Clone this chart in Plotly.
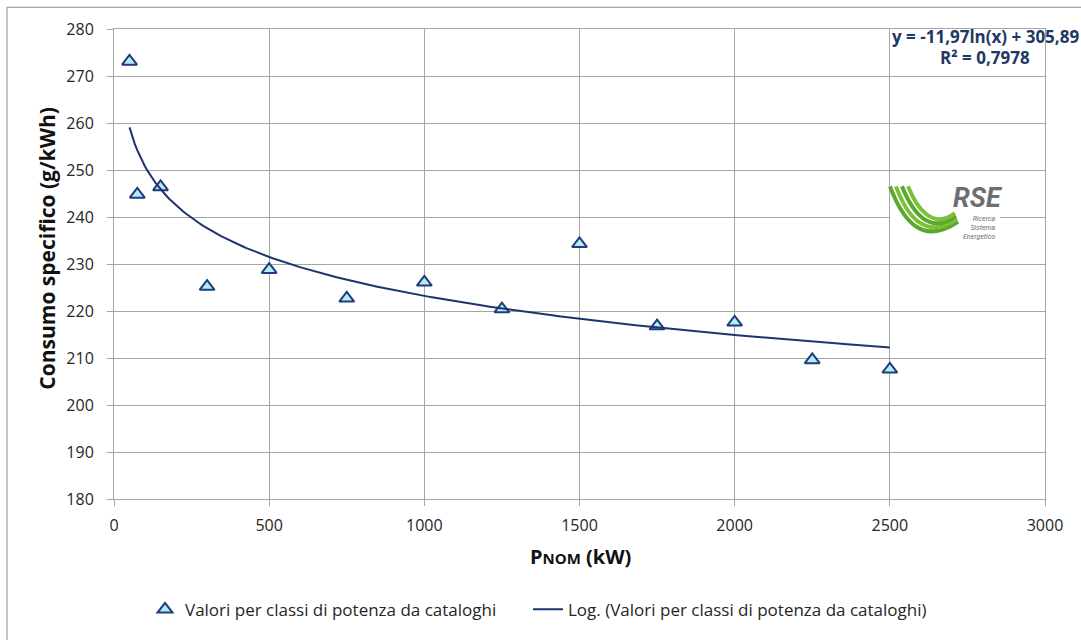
import numpy as np
import plotly.graph_objects as go

# ---- data ----
p_nom_kw = [50, 75, 150, 300, 500, 750, 1000, 1250, 1500, 1750, 2000, 2250, 2500]
consumo_g_kwh = [273.1, 244.8, 246.4, 225.2, 228.8, 222.7, 226.1, 220.4, 234.3, 216.8, 217.6, 209.6, 207.6]
trend_a = -11.97   # coefficient of ln(x) shown on the chart
trend_b = 305.89   # intercept shown on the chart
trend_label_1 = "y = -11,97ln(x) + 305,89"
trend_label_2 = "R² = 0,7978"
x_ticks = [0, 500, 1000, 1500, 2000, 2500, 3000]
y_ticks = [180, 190, 200, 210, 220, 230, 240, 250, 260, 270, 280]
series_name = "Valori per classi di potenza da cataloghi"
trend_name = "Log. (Valori per classi di potenza da cataloghi)"

# ---- layout geometry (pixels) ----
W, H = 1081, 640
ML, MR, MT, MB = 114, 36, 29, 136
PW, PH = W - ML - MR, H - MT - MB


def px(xp):
    return (xp - ML) / PW


def py(yp):
    return (H - MB - yp) / PH


FONT = "'Open Sans', Lato, sans-serif"
GRID = "#a6a6a6"
NAVY = "#1d346f"

x_trend = np.linspace(min(p_nom_kw), max(p_nom_kw), 300)
y_trend = trend_a * np.log(x_trend) + trend_b

fig = go.Figure()
fig.add_trace(go.Scatter(
    x=p_nom_kw, y=consumo_g_kwh, mode="markers", name=series_name,
    marker=dict(symbol="triangle-up", size=13, color="#b5ebf8",
                line=dict(color="#1f3d7a", width=2)),
    legend="legend",
))
fig.add_trace(go.Scatter(
    x=x_trend, y=y_trend, mode="lines", name=trend_name,
    line=dict(color=NAVY, width=2),
    legend="legend2",
))

axis_common = dict(
    showgrid=True, gridcolor=GRID, gridwidth=1,
    showline=True, linecolor=GRID, linewidth=1, mirror=True,
    ticks="outside", ticklen=6, tickcolor=GRID,
    tickfont=dict(family=FONT, size=16, color="#262626"),
    zeroline=False,
)
fig.update_xaxes(range=[0, 3000], tickvals=x_ticks, ticklabelstandoff=6, **axis_common)
fig.update_yaxes(range=[180, 280], tickvals=y_ticks, ticklabelstandoff=10, **axis_common)

shapes = []
# outer chart border
shapes.append(dict(type="rect", xref="paper", yref="paper",
                   x0=px(7), x1=px(1200), y0=py(700), y1=py(7),
                   line=dict(color="#8c8c8c", width=1), fillcolor="rgba(0,0,0,0)",
                   layer="below"))
# logo white backing
shapes.append(dict(type="rect", xref="paper", yref="paper",
                   x0=px(890), x1=px(1000), y0=py(220), y1=py(186),
                   line=dict(width=0), fillcolor="white", layer="above"))
# logo green strokes
strokes = [
    ((890, 188), (904, 226), (924, 247), (958, 224), "#5aa92c"),
    ((896, 188), (908, 221), (927, 242), (957, 221), "#7dbf3a"),
    ((902, 188), (913, 216), (930, 237), (956, 218), "#5aa92c"),
    ((908, 188), (917, 211), (933, 232), (955, 215), "#7dbf3a"),
]
for p0, c1, c2, p1, col in strokes:
    path = "M {:.5f},{:.5f} C {:.5f},{:.5f} {:.5f},{:.5f} {:.5f},{:.5f}".format(
        px(p0[0]), py(p0[1]), px(c1[0]), py(c1[1]),
        px(c2[0]), py(c2[1]), px(p1[0]), py(p1[1]))
    shapes.append(dict(type="path", xref="paper", yref="paper", path=path,
                       line=dict(color=col, width=4), layer="above"))

annotations = [
    # axis titles
    dict(text="Consumo specifico (g/kWh)", xref="paper", yref="paper",
         x=px(47), y=py(251), textangle=-90, showarrow=False,
         xanchor="center", yanchor="middle",
         font=dict(family=FONT, size=21, color="#111111", weight="bold")),
    dict(text="P<span style='font-size:15px'>NOM</span> (kW)", xref="paper", yref="paper",
         x=px(580), y=py(562), showarrow=False, xanchor="center", yanchor="middle",
         font=dict(family=FONT, size=20, color="#111111", weight="bold")),
    # trendline equation
    dict(text=trend_label_1, xref="paper", yref="paper", x=px(985), y=py(37),
         showarrow=False, xanchor="center", yanchor="middle",
         font=dict(family=FONT, size=17, color="#1f3864", weight="bold")),
    dict(text=trend_label_2, xref="paper", yref="paper", x=px(985), y=py(58),
         showarrow=False, xanchor="center", yanchor="middle",
         font=dict(family=FONT, size=17, color="#1f3864", weight="bold")),
    # logo texts
    dict(text="RSE", xref="paper", yref="paper", x=px(978), y=py(200),
         showarrow=False, xanchor="center", yanchor="middle",
         font=dict(family="Roboto, sans-serif", size=27, color="#6d6e71",
                   weight="bold", style="italic")),
    dict(text="Ricerca<br>Sistema<br>Energetico", xref="paper", yref="paper",
         x=px(997), y=py(230), showarrow=False, xanchor="right", yanchor="middle",
         align="right",
         font=dict(family="Roboto, sans-serif", size=7, color="#6d6e71", style="italic")),
]

legend_common = dict(orientation="h", xanchor="left", y=py(616), yanchor="middle",
                     font=dict(family=FONT, size=17, color="#262626"),
                     bgcolor="rgba(0,0,0,0)", itemwidth=30, tracegroupgap=0)

fig.update_layout(
    width=W, height=H,
    margin=dict(l=ML, r=MR, t=MT, b=MB, pad=0),
    paper_bgcolor="white", plot_bgcolor="white",
    showlegend=True,
    legend=dict(x=px(145), **legend_common),
    legend2=dict(x=px(528), **legend_common),
    shapes=shapes,
    annotations=annotations,
)

fig.write_html("out.html")
